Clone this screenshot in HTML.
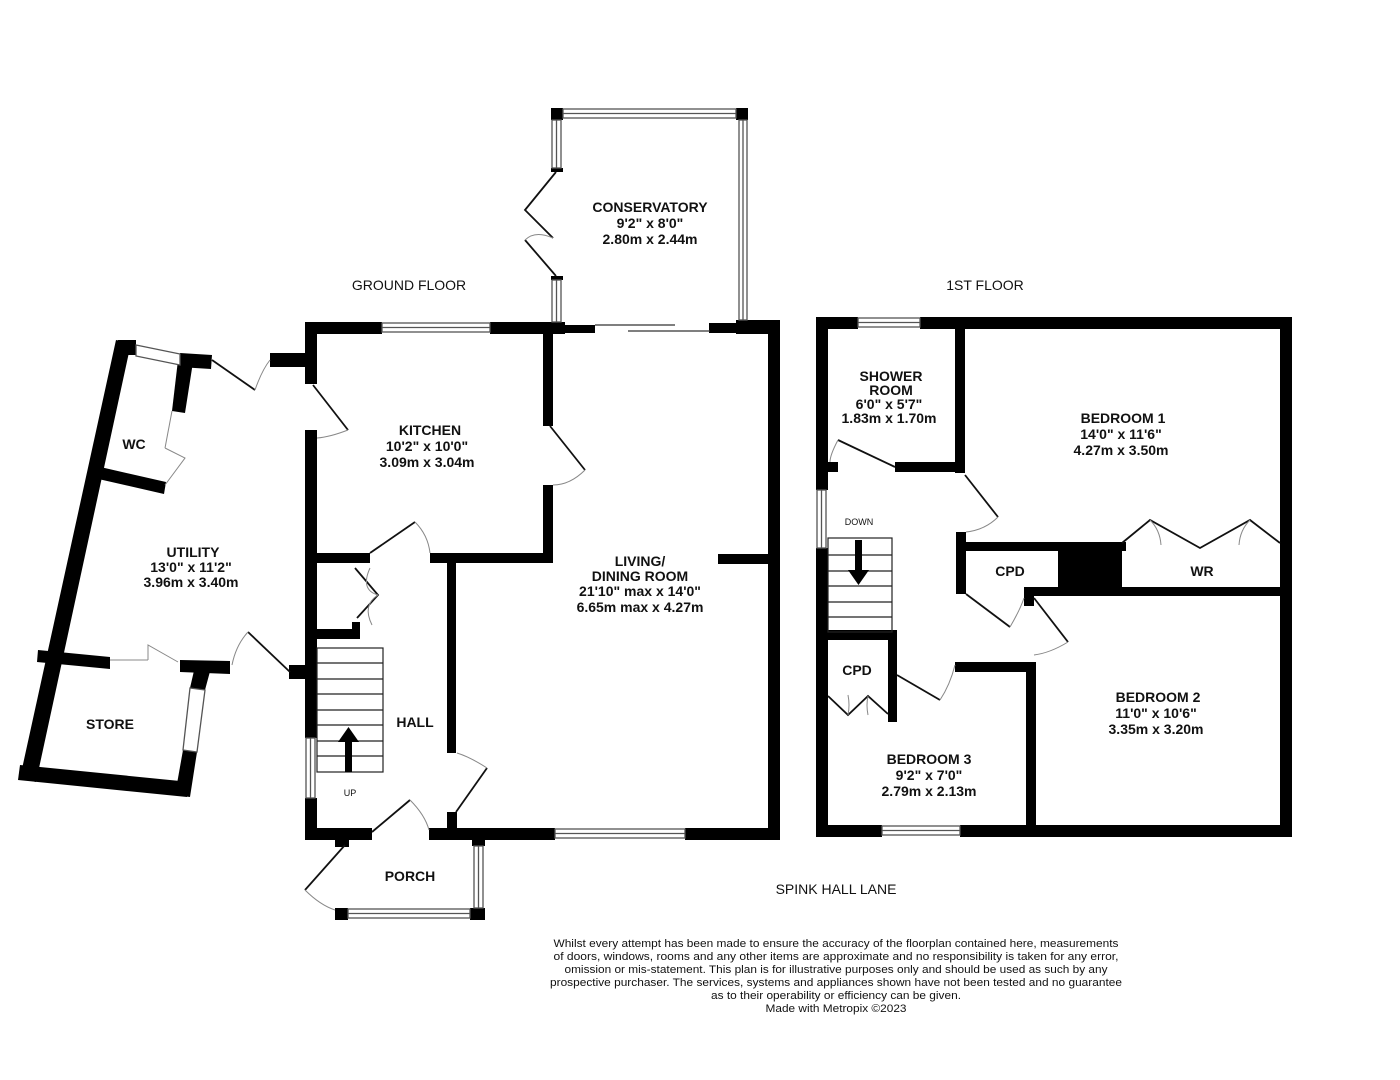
<!DOCTYPE html>
<html><head><meta charset="utf-8"><style>
html,body{margin:0;padding:0;background:#fff;}
svg{display:block;}
text{font-family:"Liberation Sans",sans-serif;fill:#111;}
.r{font-weight:bold;font-size:14px;text-anchor:middle;}
.t{font-size:14px;text-anchor:middle;}
.d{font-size:11px;text-anchor:middle;}
.w{fill:#fff;stroke:#555;stroke-width:1.3;}
.ln{stroke:#111;stroke-width:1.8;fill:none;}
.arc{stroke:#888;stroke-width:1;fill:none;}
</style></head><body>
<svg width="1400" height="1080" viewBox="0 0 1400 1080" xmlns="http://www.w3.org/2000/svg">
<rect width="1400" height="1080" fill="#fff"/>
<g fill="#000">
<rect x="551" y="108" width="12" height="12"/><rect x="736" y="108" width="12" height="12"/>
<rect x="551" y="168" width="12" height="4"/><rect x="551" y="276" width="12" height="4"/>
<rect x="305" y="322" width="77" height="12"/>
<rect x="490" y="322" width="75" height="12"/>
<rect x="565" y="325" width="30" height="8"/>
<rect x="709" y="323" width="30" height="10"/>
<rect x="736" y="320" width="44" height="14"/>
<rect x="768" y="322" width="12" height="518"/>
<rect x="305" y="322" width="12" height="62"/>
<rect x="305" y="430" width="12" height="308"/>
<rect x="305" y="798" width="12" height="42"/>
<rect x="305" y="828" width="67" height="12"/>
<rect x="429" y="828" width="26" height="12"/>
<rect x="447" y="812" width="10" height="28"/>
<rect x="455" y="828" width="100" height="12"/>
<rect x="685" y="828" width="95" height="12"/>
<rect x="543" y="334" width="10" height="92"/>
<rect x="543" y="485" width="10" height="78"/>
<rect x="317" y="553" width="53" height="10"/>
<rect x="430" y="553" width="123" height="10"/>
<rect x="447" y="563" width="9" height="190"/>
<rect x="718" y="554" width="50" height="10"/>
<rect x="317" y="629" width="38" height="10"/>
<rect x="352" y="622" width="8" height="17"/>
<rect x="289" y="665" width="16" height="14"/>
<rect x="270" y="353" width="35" height="14"/>
<rect x="335" y="833" width="14" height="14"/>
<rect x="335" y="908" width="13" height="12"/><rect x="470" y="908" width="15" height="12"/>
<rect x="472" y="840" width="13" height="6"/>
<polygon points="116,340 131,343 36,782 20,778"/>
<polygon points="20,765 190,782 187,797 18,780"/>
<polygon points="130,343 136,343 136,355 128,355"/>
<rect x="118" y="340" width="18" height="15"/>
<polygon points="180,353 212,355 211,369 179,367"/>
<polygon points="178,360 193,362 185,413 172,411"/>
<polygon points="96,466 166,482 164,494 94,478"/>
<polygon points="38,650 110,657 110,669 37,662"/>
<polygon points="180,660 230,661 230,674 180,672"/>
<polygon points="196,662 212,664 205,690 190,688"/>
<polygon points="183,750 197,752 190,797 175,795"/>
<rect x="816" y="317" width="42" height="12"/>
<rect x="920" y="317" width="372" height="12"/>
<rect x="1280" y="317" width="12" height="520"/>
<rect x="816" y="825" width="66" height="12"/>
<rect x="960" y="825" width="332" height="12"/>
<rect x="816" y="317" width="12" height="173"/>
<rect x="816" y="548" width="12" height="289"/>
<rect x="955" y="329" width="10" height="144"/>
<rect x="895" y="462" width="70" height="10"/>
<rect x="828" y="462" width="10" height="10"/>
<rect x="956" y="532" width="10" height="62"/>
<rect x="956" y="542" width="170" height="9"/>
<rect x="1058" y="542" width="64" height="54"/>
<rect x="1024" y="587" width="268" height="9"/>
<rect x="1024" y="587" width="10" height="19"/>
<rect x="828" y="630" width="68" height="10"/>
<rect x="888" y="630" width="9" height="92"/>
<rect x="955" y="662" width="78" height="10"/>
<rect x="1026" y="662" width="10" height="175"/>
</g>
<g class="w">
<rect x="563" y="109" width="173" height="9"/><line x1="563" y1="113.5" x2="736" y2="113.5"/>
<rect x="739" y="120" width="8" height="200"/><line x1="743" y1="120" x2="743" y2="320"/>
<rect x="552" y="120" width="9" height="48"/><line x1="556.5" y1="120" x2="556.5" y2="168"/>
<rect x="552" y="280" width="9" height="42"/><line x1="556.5" y1="280" x2="556.5" y2="322"/>
<rect x="382" y="323" width="108" height="9"/><line x1="382" y1="327.5" x2="490" y2="327.5"/>
<rect x="555" y="829" width="130" height="9"/><line x1="555" y1="833.5" x2="685" y2="833.5"/>
<rect x="306" y="738" width="9" height="60"/><line x1="310.5" y1="738" x2="310.5" y2="798"/>
<rect x="348" y="909" width="122" height="9"/><line x1="348" y1="913.5" x2="470" y2="913.5"/>
<rect x="474" y="846" width="9" height="62"/><line x1="478.5" y1="846" x2="478.5" y2="908"/>
<polygon points="136,345 180,354 180,365 136,356"/>
<polygon points="190,688 205,690 197,752 183,750"/>
<rect x="858" y="318" width="62" height="9"/><line x1="858" y1="322.5" x2="920" y2="322.5"/>
<rect x="817" y="490" width="9" height="58"/><line x1="821.5" y1="490" x2="821.5" y2="548"/>
<rect x="882" y="826" width="78" height="9"/><line x1="882" y1="830.5" x2="960" y2="830.5"/>
</g>
<line x1="595" y1="325" x2="675" y2="325" stroke="#333" stroke-width="1.3"/>
<line x1="628" y1="331" x2="710" y2="331" stroke="#333" stroke-width="1.3"/>
<g class="ln">
<polyline points="556,172 525,210 553,238"/><polyline points="525,240 556,276"/>
<line x1="212" y1="360" x2="255" y2="390"/>
<line x1="313" y1="385" x2="348" y2="430"/>
<line x1="550" y1="426" x2="585" y2="470"/>
<line x1="370" y1="553" x2="415" y2="522"/>
<polyline points="355,568 378,595 357,618"/>
<line x1="290" y1="672" x2="248" y2="632"/>
<line x1="456" y1="812" x2="487" y2="768"/>
<line x1="372" y1="832" x2="410" y2="800"/>
<line x1="345" y1="845" x2="305" y2="890"/>
<line x1="838" y1="440" x2="895" y2="467"/>
<line x1="965" y1="475" x2="998" y2="517"/>
<line x1="966" y1="594" x2="1010" y2="627"/>
<line x1="1034" y1="598" x2="1068" y2="642"/>
<line x1="897" y1="675" x2="940" y2="700"/>
<polyline points="828,696 848,715 868,696 888,714"/>
<polyline points="1122,543 1150,520 1200,548 1250,520 1280,543"/>
</g>
<g class="arc">
<path d="M255,390 Q262,370 270,360"/><path d="M348,430 Q330,437 317,438"/>
<path d="M585,470 Q570,485 553,485"/><path d="M415,522 Q428,535 430,553"/>
<path d="M248,632 Q236,645 232,665"/><path d="M487,768 Q470,757 457,753"/>
<path d="M410,800 Q425,815 429,830"/><path d="M305,890 Q320,905 335,910"/>
<path d="M838,440 Q830,455 830,462"/><path d="M998,517 Q985,530 966,532"/>
<path d="M1010,627 Q1020,610 1024,598"/><path d="M1068,642 Q1050,653 1034,655"/>
<path d="M940,700 Q950,685 955,665"/>
<path d="M553,238 Q535,230 525,240"/>
<path d="M1150,520 Q1160,530 1161,545"/><path d="M1250,520 Q1240,530 1239,545"/>
<path d="M848,715 Q850,705 848,695"/><path d="M868,696 Q866,705 868,715"/>
<path d="M172,411 L165,448"/><polyline points="165,448 185,458 165,485"/>
<polyline points="110,660 148,660"/><polyline points="148,660 148,645 178,662"/>
<path d="M370,568 Q360,590 378,595"/><path d="M378,595 Q362,605 372,625"/>
</g>
<g fill="none" stroke="#222" stroke-width="1.2">
<rect x="317" y="648" width="66" height="124"/>
<line x1="317" y1="663" x2="383" y2="663"/><line x1="317" y1="679" x2="383" y2="679"/>
<line x1="317" y1="694" x2="383" y2="694"/><line x1="317" y1="710" x2="383" y2="710"/>
<line x1="317" y1="725" x2="383" y2="725"/><line x1="317" y1="741" x2="383" y2="741"/>
<line x1="317" y1="756" x2="383" y2="756"/>
<rect x="828" y="538" width="64" height="94"/>
<line x1="828" y1="555" x2="892" y2="555"/><line x1="828" y1="571" x2="892" y2="571"/>
<line x1="828" y1="586" x2="892" y2="586"/><line x1="828" y1="602" x2="892" y2="602"/>
<line x1="828" y1="617" x2="892" y2="617"/>
</g>
<rect x="345" y="740" width="7" height="32" fill="#000"/><polygon points="338,742 359,742 348.5,727" fill="#000"/>
<rect x="855" y="540" width="7" height="32" fill="#000"/><polygon points="848,570 869,570 858.5,585" fill="#000"/>
<text class="t" x="409" y="290">GROUND FLOOR</text>
<text class="t" x="985" y="290">1ST FLOOR</text>
<text class="t" x="836" y="894">SPINK HALL LANE</text>
<text class="r" x="650" y="212">CONSERVATORY</text><text class="r" x="650" y="228">9'2"  x 8'0"</text><text class="r" x="650" y="244">2.80m  x 2.44m</text>
<text class="r" x="430" y="435">KITCHEN</text><text class="r" x="427" y="451">10'2"  x 10'0"</text><text class="r" x="427" y="467">3.09m  x 3.04m</text>
<text class="r" x="640" y="566">LIVING/</text><text class="r" x="640" y="581">DINING ROOM</text><text class="r" x="640" y="596">21'10" max x 14'0"</text><text class="r" x="640" y="612">6.65m max x 4.27m</text>
<text class="r" x="193" y="557">UTILITY</text><text class="r" x="191" y="572">13'0"  x 11'2"</text><text class="r" x="191" y="587">3.96m  x 3.40m</text>
<text class="r" x="134" y="449">WC</text>
<text class="r" x="110" y="729">STORE</text>
<text class="r" x="415" y="727">HALL</text>
<text class="r" x="410" y="881">PORCH</text>
<text x="350" y="796" font-size="9" text-anchor="middle">UP</text>
<text x="859" y="525" font-size="9" text-anchor="middle">DOWN</text>
<text class="r" x="891" y="381" font-size="13">SHOWER</text><text class="r" x="891" y="395">ROOM</text><text class="r" x="889" y="409">6'0"  x 5'7"</text><text class="r" x="889" y="423">1.83m  x 1.70m</text>
<text class="r" x="1123" y="423">BEDROOM 1</text><text class="r" x="1121" y="439">14'0"  x 11'6"</text><text class="r" x="1121" y="455">4.27m  x 3.50m</text>
<text class="r" x="1010" y="576">CPD</text>
<text class="r" x="1202" y="576">WR</text>
<text class="r" x="857" y="675">CPD</text>
<text class="r" x="1158" y="702">BEDROOM 2</text><text class="r" x="1156" y="718">11'0"  x 10'6"</text><text class="r" x="1156" y="734">3.35m  x 3.20m</text>
<text class="r" x="929" y="764">BEDROOM 3</text><text class="r" x="929" y="780">9'2"  x 7'0"</text><text class="r" x="929" y="796">2.79m  x 2.13m</text>
<g class="d">
<text x="836" y="947" textLength="565" lengthAdjust="spacingAndGlyphs">Whilst every attempt has been made to ensure the accuracy of the floorplan contained here, measurements</text>
<text x="836" y="960" textLength="565" lengthAdjust="spacingAndGlyphs">of doors, windows, rooms and any other items are approximate and no responsibility is taken for any error,</text>
<text x="836" y="973" textLength="543" lengthAdjust="spacingAndGlyphs">omission or mis-statement. This plan is for illustrative purposes only and should be used as such by any</text>
<text x="836" y="986" textLength="572" lengthAdjust="spacingAndGlyphs">prospective purchaser. The services, systems and appliances shown have not been tested and no guarantee</text>
<text x="836" y="999" textLength="250" lengthAdjust="spacingAndGlyphs">as to their operability or efficiency can be given.</text>
<text x="836" y="1012" textLength="141" lengthAdjust="spacingAndGlyphs">Made with Metropix ©2023</text>
</g>
</svg>
</body></html>
